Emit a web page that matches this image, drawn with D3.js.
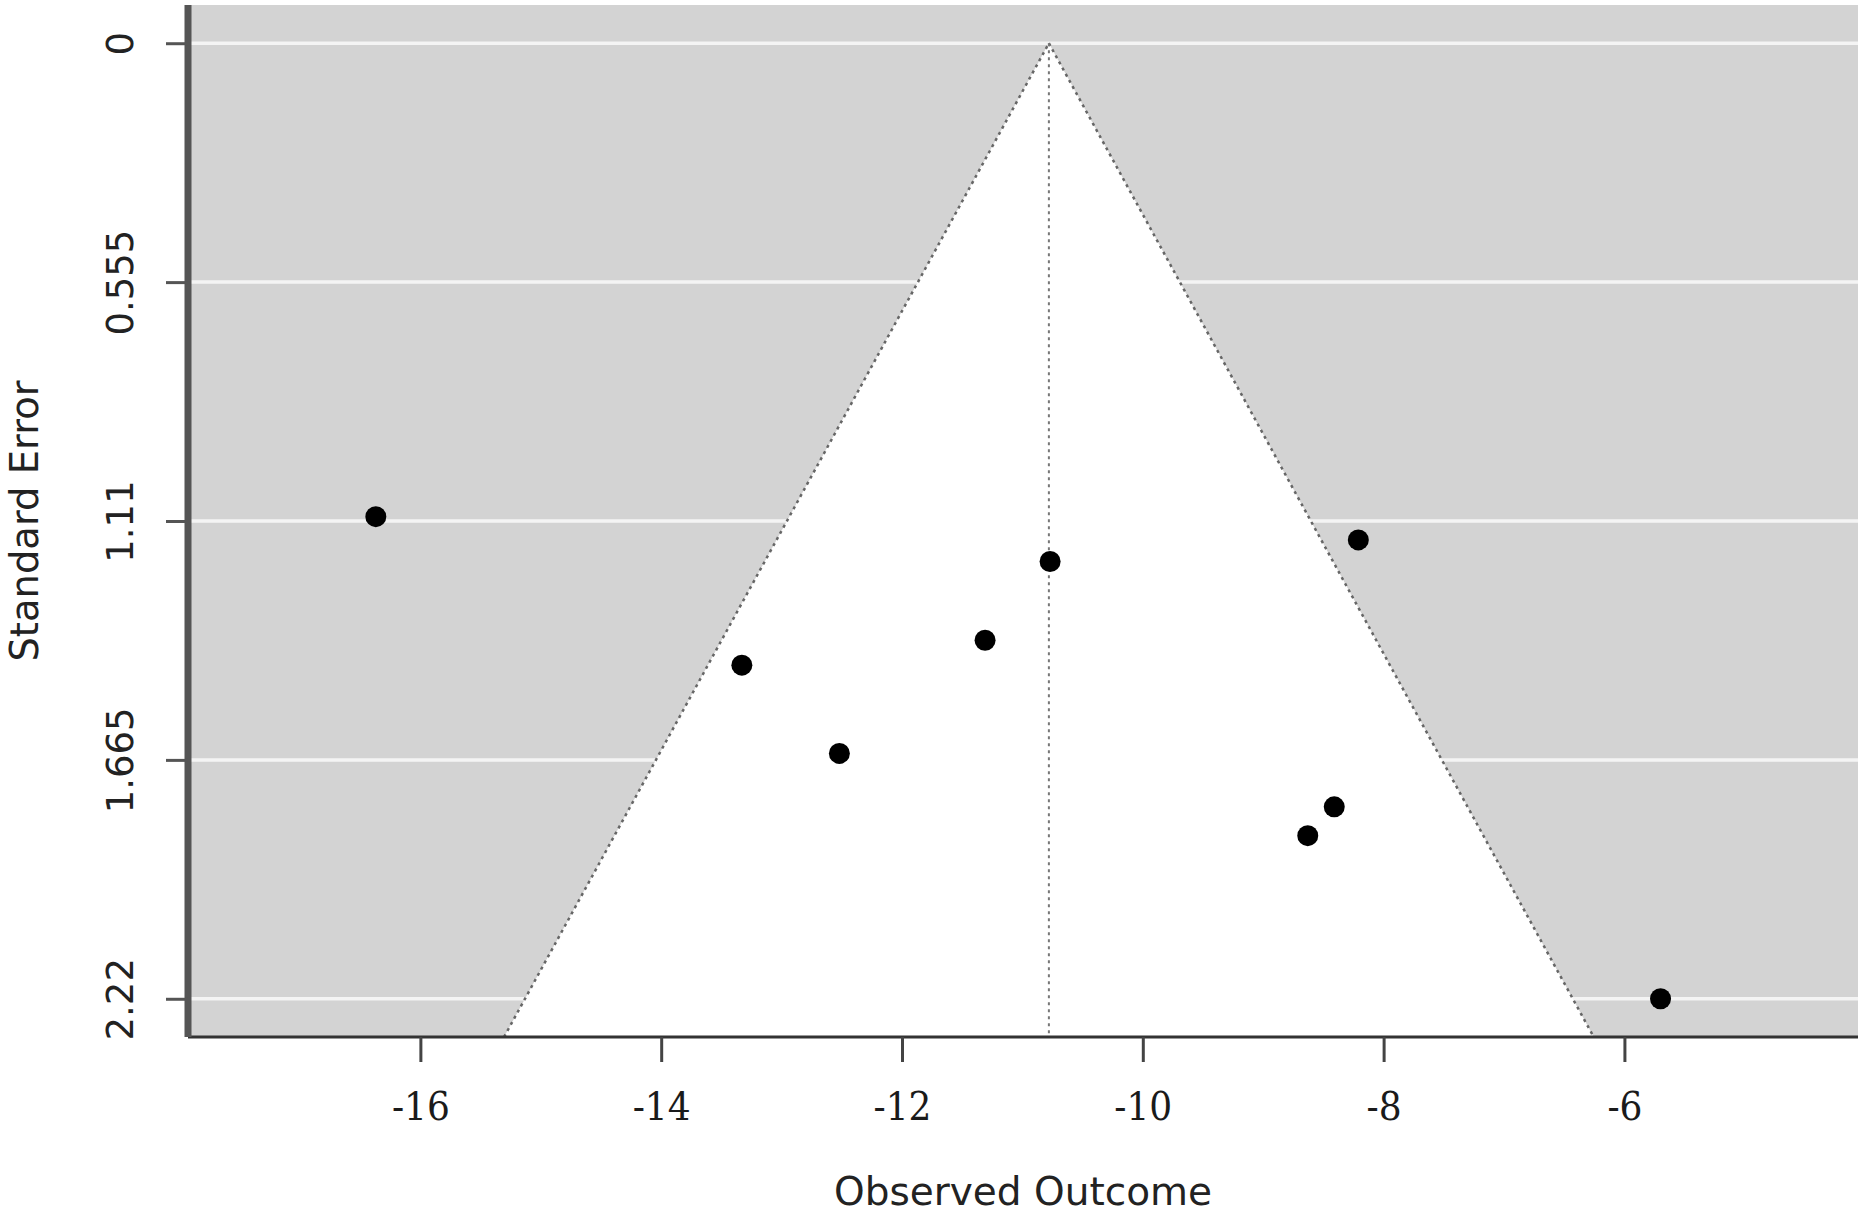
<!DOCTYPE html>
<html>
<head>
<meta charset="utf-8">
<script src="https://cdn.jsdelivr.net/npm/d3@7"></script>
<style>
  body { margin: 0; background: #fff; }
</style>
</head>
<body>
<div id="chart"></div>
<script>
// funnel plot data
var outcome = [-16.37, -8.21, -10.77, -11.31, -13.33, -12.52, -8.41, -8.63, -5.70];
var stdError = [1.10, 1.154, 1.204, 1.387, 1.445, 1.650, 1.774, 1.841, 2.22];
var estimate = -10.78;
var xTicks = [-16, -14, -12, -10, -8, -6];
var yTicks = [0, 0.555, 1.11, 1.665, 2.22];
var yTickLabels = ["0", "0.555", "1.11", "1.665", "2.22"];

var width = 1866, height = 1220;

var svg = d3.select("#chart").append("svg")
    .attr("width", width)
    .attr("height", height);

var x = d3.scaleLinear()
    .domain([-17.93, -4.06])
    .range([188, 1858]);

var y = d3.scaleLinear()
    .domain([-0.0888, 2.3088])
    .range([5, 1037]);

var seMax = y.domain()[1];

// grey background
svg.append("rect")
    .attr("x", x.range()[0])
    .attr("y", y.range()[0])
    .attr("width", x.range()[1] - x.range()[0])
    .attr("height", y.range()[1] - y.range()[0])
    .attr("fill", "#d3d3d3");

// white reference lines at the y ticks
svg.selectAll(".hline")
    .data(yTicks)
    .enter().append("line")
    .attr("x1", x.range()[0])
    .attr("x2", x.range()[1])
    .attr("y1", function(d) { return y(d); })
    .attr("y2", function(d) { return y(d); })
    .attr("stroke", "#f4f4f4")
    .attr("stroke-width", 3.5);

// pseudo confidence region
var funnel = [
    [estimate - 1.96 * seMax, seMax],
    [estimate, 0],
    [estimate + 1.96 * seMax, seMax]
];

svg.append("path")
    .datum(funnel)
    .attr("fill", "#fff")
    .attr("d", d3.line()
        .x(function(d) { return x(d[0]); })
        .y(function(d) { return y(d[1]); }));

svg.selectAll(".edge")
    .data([funnel.slice(0, 2), funnel.slice(1)])
    .enter().append("path")
    .attr("fill", "none")
    .attr("stroke", "#666")
    .attr("stroke-width", 2.5)
    .attr("stroke-dasharray", "3,4")
    .attr("d", d3.line()
        .x(function(d) { return x(d[0]); })
        .y(function(d) { return y(d[1]); }));

svg.append("line")
    .attr("x1", x(estimate))
    .attr("x2", x(estimate))
    .attr("y1", y(0))
    .attr("y2", y(seMax))
    .attr("stroke", "#777")
    .attr("stroke-width", 2)
    .attr("stroke-dasharray", "3,4");

// studies
svg.selectAll(".pt")
    .data(outcome)
    .enter().append("circle")
    .attr("cx", function(d) { return x(d); })
    .attr("cy", function(d, i) { return y(stdError[i]); })
    .attr("r", 10.5)
    .attr("fill", "#000");

// axes
var gx = svg.append("g")
    .attr("transform", "translate(0," + y.range()[1] + ")")
    .call(d3.axisBottom(x).tickValues(xTicks).tickSize(25).tickFormat(function(d) { return String(d); }));

gx.select(".domain").remove();
gx.insert("line", ":first-child")
    .attr("x1", x.range()[0])
    .attr("x2", x.range()[1])
    .attr("stroke", "#333")
    .attr("stroke-width", 3);
gx.selectAll(".tick line").attr("stroke", "#444").attr("stroke-width", 3);
gx.selectAll(".tick text")
    .attr("y", 83)
    .attr("dy", null)
    .attr("fill", "#1a1a1a")
    .style("font-family", "'DejaVu Serif', serif")
    .style("font-stretch", "condensed")
    .style("font-size", "40px");

var gy = svg.append("g")
    .attr("transform", "translate(" + x.range()[0] + ",0)")
    .call(d3.axisLeft(y).tickValues(yTicks).tickSize(22)
        .tickFormat(function(d, i) { return yTickLabels[i]; }));

gy.select(".domain").remove();
gy.insert("line", ":first-child")
    .attr("y1", y.range()[0])
    .attr("y2", y.range()[1])
    .attr("stroke", "#555")
    .attr("stroke-width", 7);
gy.selectAll(".tick line").attr("stroke", "#555").attr("stroke-width", 3);
gy.selectAll(".tick text")
    .attr("x", null)
    .attr("dy", null)
    .attr("text-anchor", "middle")
    .attr("transform", "translate(-55,0) rotate(-90)")
    .attr("fill", "#222")
    .style("font-family", "'DejaVu Sans', sans-serif")
    .style("font-size", "37px");

// axis titles
svg.append("text")
    .attr("x", (x.range()[0] + x.range()[1]) / 2)
    .attr("y", 1205)
    .attr("text-anchor", "middle")
    .attr("fill", "#222")
    .style("font-family", "'DejaVu Sans', sans-serif")
    .style("font-size", "39px")
    .text("Observed Outcome");

svg.append("text")
    .attr("transform", "translate(38," + (y.range()[0] + y.range()[1]) / 2 + ") rotate(-90)")
    .attr("text-anchor", "middle")
    .attr("fill", "#222")
    .style("font-family", "'DejaVu Sans', sans-serif")
    .style("font-size", "38.5px")
    .text("Standard Error");
</script>
</body>
</html>
